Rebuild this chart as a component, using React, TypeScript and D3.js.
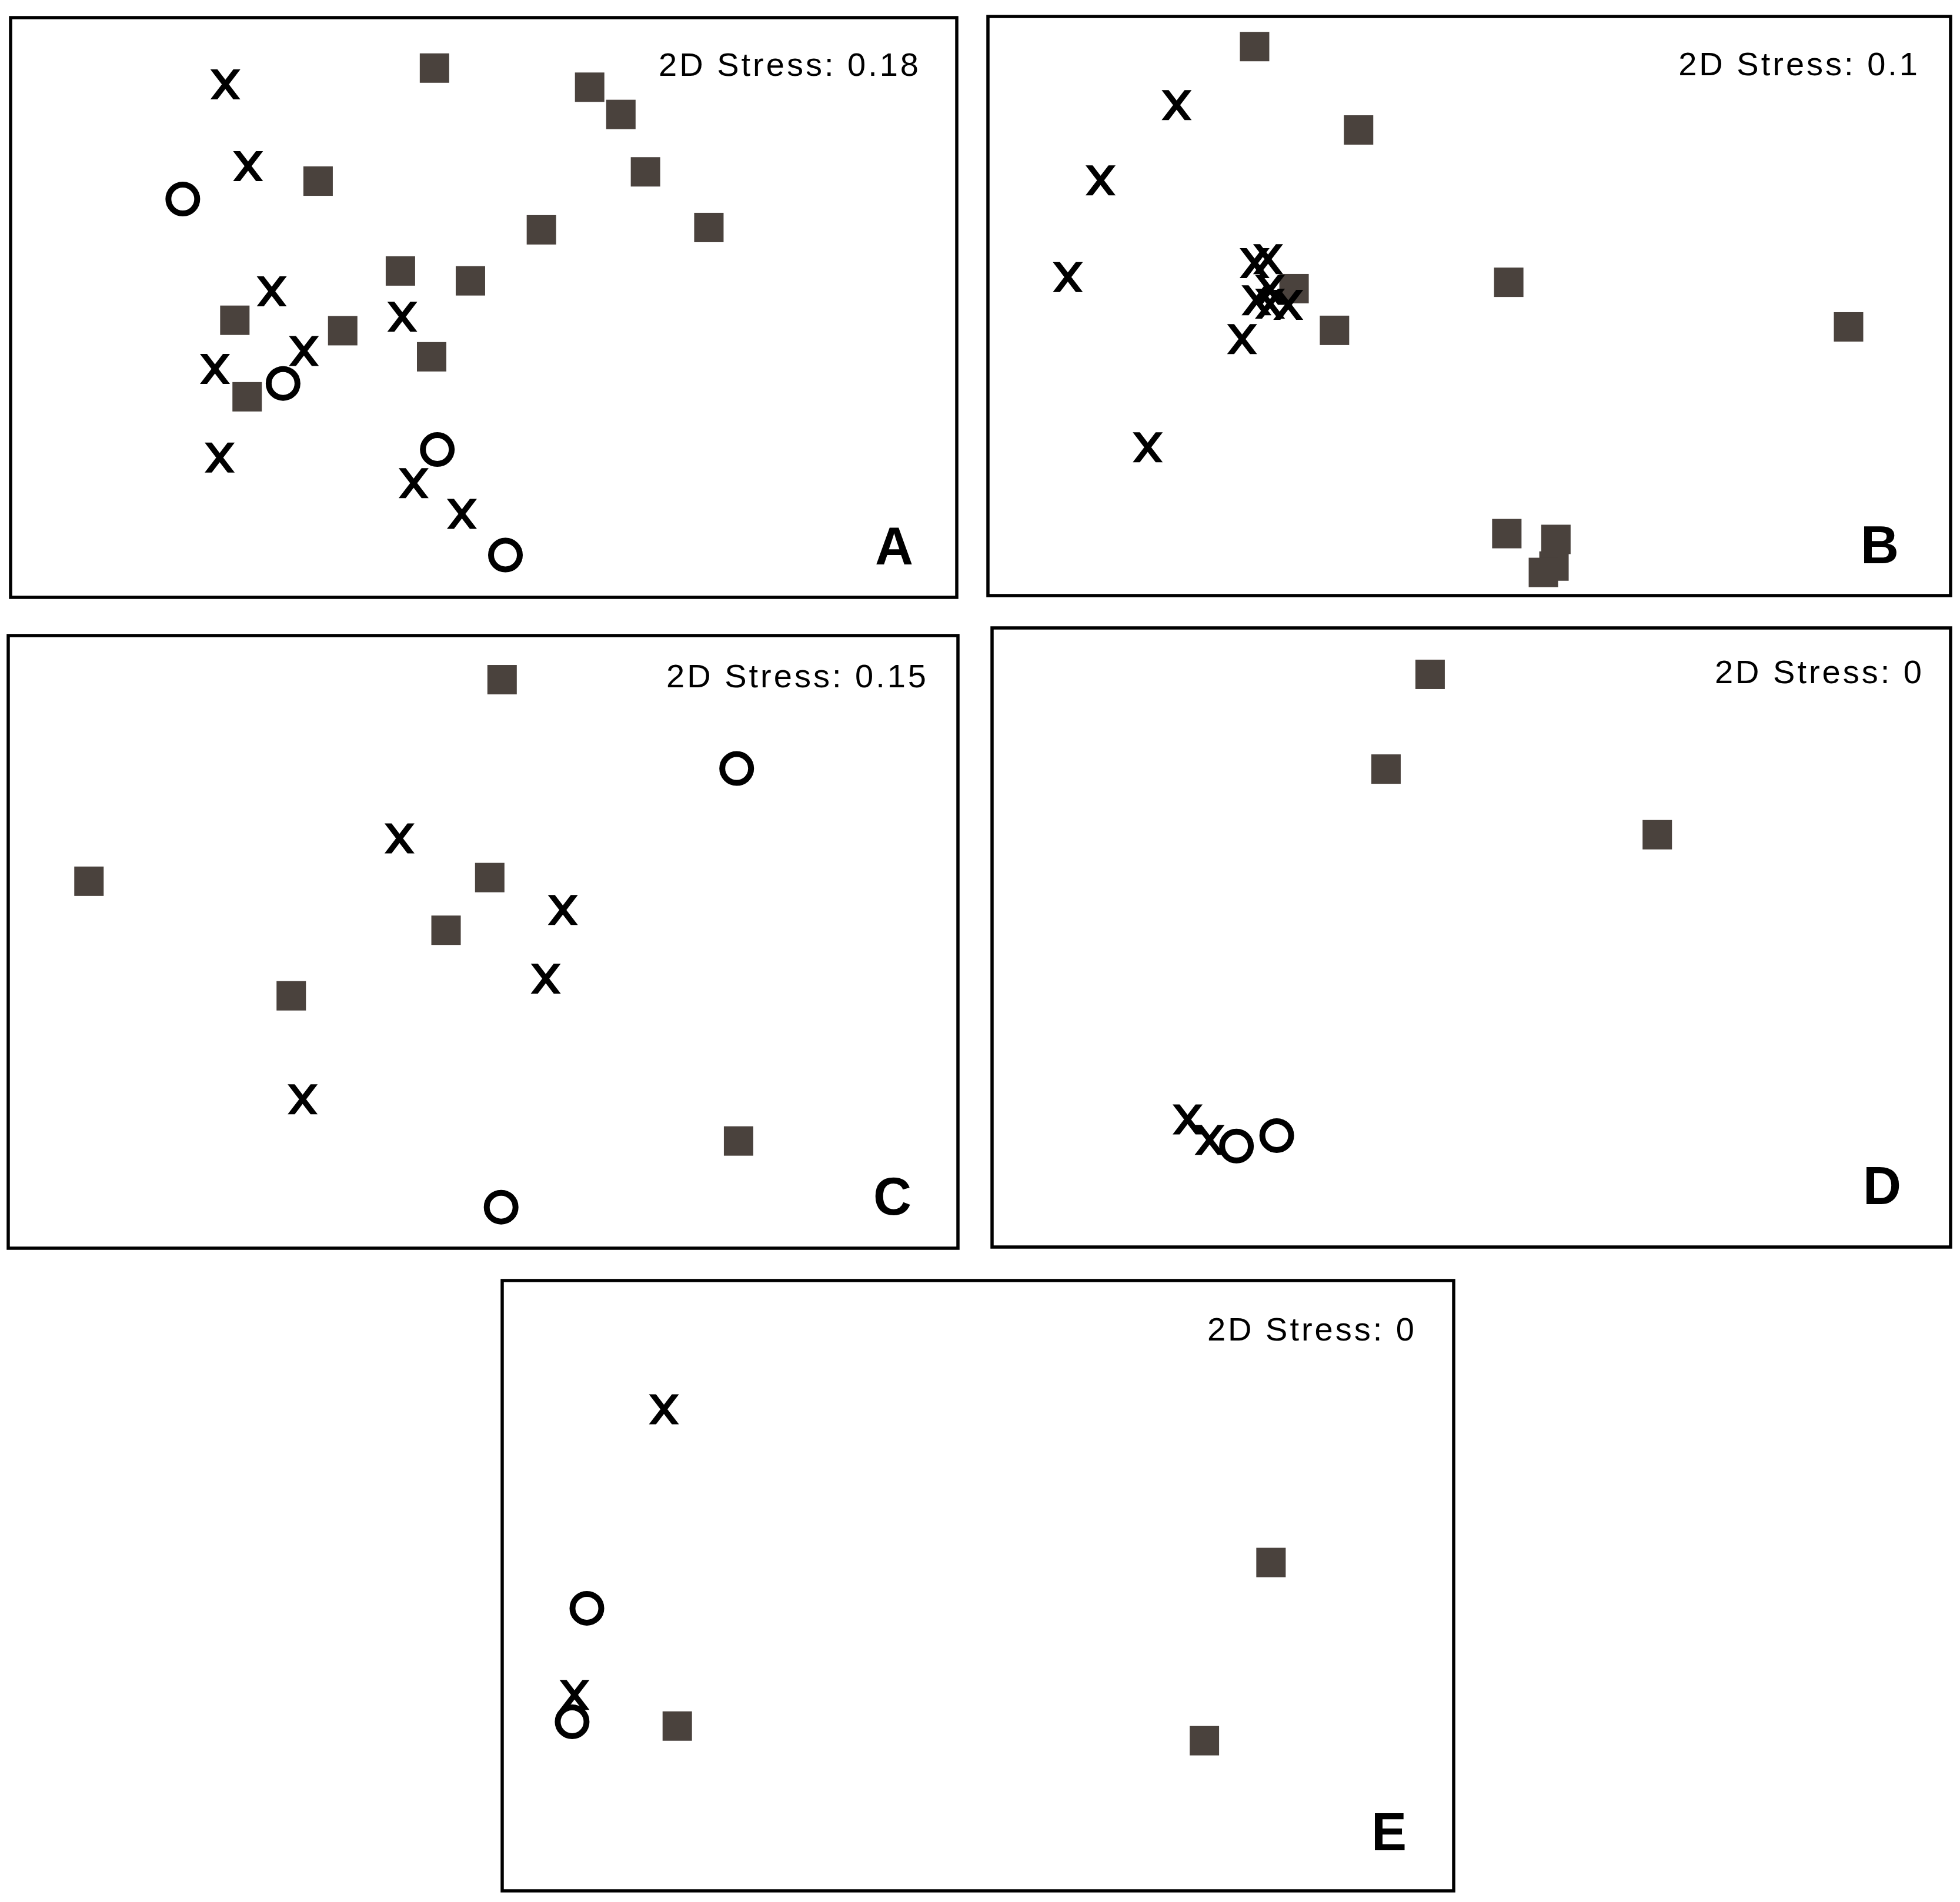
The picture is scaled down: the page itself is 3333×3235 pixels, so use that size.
import * as d3 from "d3";
import React from "react";

// marker positions in each panel, as % of panel width / height (MDS ordination, axes not shown)
const panelNames = ["A", "B", "C", "D", "E"];
const stressValues = ["0.18", "0.1", "0.15", "0", "0"];

const aSquares = [[44.8, 8.7], [61.2, 12.0], [64.5, 16.7], [67.1, 26.6], [32.5, 28.2], [56.1, 36.6], [73.8, 36.2], [41.2, 43.7], [48.6, 45.4], [23.7, 52.2], [35.1, 54.0], [44.5, 58.5], [25.0, 65.4]];
const aCrosses = [[22.7, 11.5], [25.1, 25.6], [27.6, 47.2], [41.4, 51.6], [31.0, 57.5], [21.6, 60.6], [22.1, 75.9], [42.6, 80.3], [47.7, 85.6]];
const aCircles = [[18.2, 31.3], [28.8, 63.1], [45.1, 74.5], [52.3, 92.7]];

const bSquares = [[27.7, 5.2], [38.5, 19.6], [54.1, 45.9], [31.8, 47.0], [36.0, 54.2], [89.4, 53.6], [53.9, 89.3], [59.0, 90.3], [58.8, 94.9], [57.7, 96.0]];
const bCrosses = [[19.6, 15.3], [11.7, 28.3], [8.3, 45.0], [16.6, 74.4], [26.4, 55.7], [27.7, 42.6], [29.1, 41.9], [27.9, 49.0], [29.3, 47.2], [29.3, 49.6], [31.2, 49.8]];
const bCircles: number[][] = [];

const cSquares = [[52.0, 7.2], [8.5, 40.1], [50.7, 39.5], [46.1, 48.1], [29.8, 58.8], [76.9, 82.5]];
const cCrosses = [[41.2, 33.1], [58.4, 44.8], [56.6, 56.0], [31.0, 75.7]];
const cCircles = [[76.7, 21.7], [51.9, 93.3]];

const dSquares = [[45.7, 7.5], [41.1, 22.8], [69.4, 33.4]];
const dCrosses = [[20.4, 79.4], [22.7, 82.7]];
const dCircles = [[25.5, 83.7], [29.7, 82.0]];

const eSquares = [[80.8, 46.2], [18.4, 73.0], [73.8, 75.4]];
const eCrosses = [[17.0, 21.1], [7.6, 67.9]];
const eCircles = [[8.9, 53.7], [7.35, 72.3]];

// layout (pixels)
const boxes = [
  {x0: 18, y0: 30, x1: 1627, y1: 1016, tx: 1566, ty: 129, lx: 1553, ly: 960},
  {x0: 1680, y0: 28, x1: 3317, y1: 1013, tx: 3265, ty: 128, lx: 3229, ly: 958},
  {x0: 14, y0: 1081, x1: 1629, y1: 2123, tx: 1579, ty: 1169, lx: 1550, ly: 2066},
  {x0: 1687, y0: 1068, x1: 3317, y1: 2121, tx: 3272, ty: 1162, lx: 3233, ly: 2048},
  {x0: 854, y0: 2178, x1: 2472, y1: 3216, tx: 2409, ty: 2280, lx: 2392, ly: 3147},
];
const squareColor = "#4a423d";

// an "x" glyph: two slanted bars with flat (horizontal) ends, same winding so they fill solid
const crossPath = (cx, cy) => {
  const h = 25.5, w = 12;
  return `M${cx - h},${cy - h}h${w}L${cx + h},${cy + h}h${-w}Z` +
         `M${cx + h - w},${cy - h}h${w}L${cx - h + w},${cy + h}h${-w}Z`;
};

const Panel = ({box, squares, crosses, circles, stress, name}) => {
  const x = d3.scaleLinear().domain([0, 100]).range([box.x0, box.x1]);
  const y = d3.scaleLinear().domain([0, 100]).range([box.y0, box.y1]);
  const s = 25; // half size of square
  return (
    <g>
      <rect x={box.x0} y={box.y0} width={box.x1 - box.x0} height={box.y1 - box.y0}
            fill="white" stroke="black" strokeWidth={5.5}/>
      {squares.map((d, i) => (
        <rect key={"s" + i} x={x(d[0]) - s} y={y(d[1]) - s} width={2 * s} height={2 * s} fill={squareColor}/>
      ))}
      {crosses.map((d, i) => (
        <path key={"x" + i} d={crossPath(x(d[0]), y(d[1]))} fill="black" fillRule="nonzero"/>
      ))}
      {circles.map((d, i) => (
        <circle key={"c" + i} cx={x(d[0])} cy={y(d[1])} r={24.5} fill="none" stroke="black" strokeWidth={10}/>
      ))}
      <text x={box.tx} y={box.ty} textAnchor="end" fontFamily="'Liberation Sans', Arial, sans-serif"
            fontSize={56} letterSpacing={4} fill="black">{"2D Stress: " + stress}</text>
      <text x={box.lx} y={box.ly} textAnchor="end" fontFamily="'Liberation Sans', Arial, sans-serif"
            fontSize={90} fontWeight="bold" fill="black">{name}</text>
    </g>
  );
};

export default function App() {
  const sets = [
    [aSquares, aCrosses, aCircles],
    [bSquares, bCrosses, bCircles],
    [cSquares, cCrosses, cCircles],
    [dSquares, dCrosses, dCircles],
    [eSquares, eCrosses, eCircles],
  ];
  return (
    <svg width={3333} height={3235} viewBox="0 0 3333 3235"
         style={{position: "absolute", left: 0, top: 0, background: "white"}}>
      <rect width={3333} height={3235} fill="white"/>
      {sets.map((set, i) => (
        <Panel key={i} box={boxes[i]} squares={set[0]} crosses={set[1]} circles={set[2]}
               stress={stressValues[i]} name={panelNames[i]}/>
      ))}
    </svg>
  );
}
